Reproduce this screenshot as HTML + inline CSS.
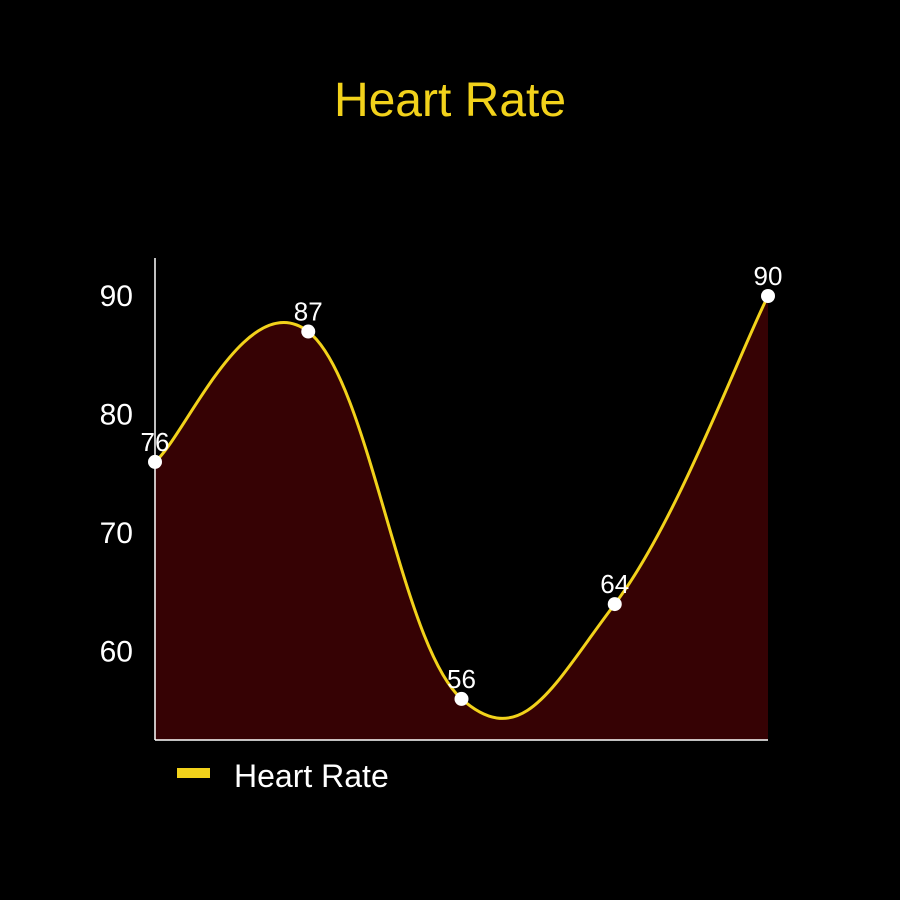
<!DOCTYPE html>
<html><head><meta charset="utf-8"><style>
html,body{margin:0;padding:0;background:#000;width:900px;height:900px;overflow:hidden}
svg{display:block}
text{font-family:"Liberation Sans",sans-serif}
</style></head><body>
<svg id="chart" width="900" height="900" xmlns="http://www.w3.org/2000/svg">
<rect width="900" height="900" fill="#000"/>
<text x="450" y="116" text-anchor="middle" font-size="48" fill="#f2d21b">Heart Rate</text>
<g id="plot"></g>
<line x1="155" y1="258" x2="155" y2="740" stroke="#fff" stroke-width="1.5"/>
<line x1="155" y1="740" x2="768" y2="740" stroke="#fff" stroke-width="1.5"/>
<g id="yticks"></g>
<g>
<rect x="177" y="768" width="33" height="10" fill="#f2d21b"/>
<text x="234" y="787" font-size="32" fill="#fff">Heart Rate</text>
</g>
</svg>
<script>
const categories = ["1","2","3","4","5"];
const values = [76, 87, 56, 64, 90];
const yTicks = [60, 70, 80, 90];

const x0 = 155, x1 = 768;
function xPos(i){ return x0 + (x1 - x0) * i / (categories.length - 1); }
function yPos(v){ return 296 + (90 - v) * 11.85; }
const NS = "http://www.w3.org/2000/svg";
const plot = document.getElementById('plot');
const pts = values.map((v,i)=>[xPos(i), yPos(v)]);
let d = "M" + pts[0][0] + "," + pts[0][1];
const k = 1/5;
for (let i=0;i<pts.length-1;i++){
  const p0 = pts[i-1]||pts[i], p1 = pts[i], p2 = pts[i+1], p3 = pts[i+2]||pts[i+1];
  const c1 = [p1[0]+(p2[0]-p0[0])*k, p1[1]+(p2[1]-p0[1])*k];
  const c2 = [p2[0]-(p3[0]-p1[0])*k, p2[1]-(p3[1]-p1[1])*k];
  d += " C" + c1[0] + "," + c1[1] + " " + c2[0] + "," + c2[1] + " " + p2[0] + "," + p2[1];
}
const area = document.createElementNS(NS,'path');
area.setAttribute('d', d + " L" + x1 + ",740 L" + x0 + ",740 Z");
area.setAttribute('fill', '#360204');


plot.appendChild(area);
const line = document.createElementNS(NS,'path');
line.setAttribute('d', d);
line.setAttribute('fill', 'none');
line.setAttribute('stroke', '#f2d21b');
line.setAttribute('stroke-width', '3');


plot.appendChild(line);
pts.forEach((p,i)=>{
  const c = document.createElementNS(NS,'circle');
  c.setAttribute('cx', p[0]); c.setAttribute('cy', p[1]); c.setAttribute('r', 7);
  c.setAttribute('fill', '#fff');
  
  
  plot.appendChild(c);
  const tx = document.createElementNS(NS,'text');
  tx.setAttribute('x', p[0]); tx.setAttribute('y', p[1]-11);
  tx.setAttribute('text-anchor', 'middle'); tx.setAttribute('font-size', '26');
  tx.setAttribute('fill', '#fff');
  tx.textContent = values[i];
  
  
  plot.appendChild(tx);
});
const yt = document.getElementById('yticks');
yTicks.forEach(v=>{
  const tx = document.createElementNS(NS,'text');
  tx.setAttribute('x', 133); tx.setAttribute('y', yPos(v)+10);
  tx.setAttribute('text-anchor', 'end'); tx.setAttribute('font-size', '30');
  tx.setAttribute('fill', '#fff');
  tx.textContent = v;
  
  
  yt.appendChild(tx);
});
</script>
</body></html>
